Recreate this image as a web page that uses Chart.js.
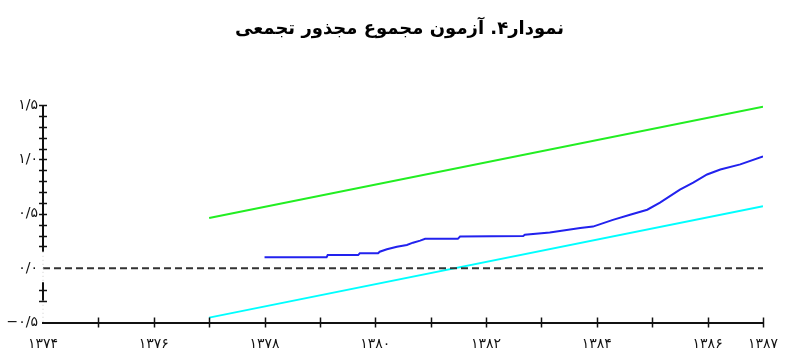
<!DOCTYPE html>
<html>
<head>
<meta charset="utf-8">
<script src="https://cdn.jsdelivr.net/npm/chart.js@4/dist/chart.umd.min.js"></script>
<style>
  html, body { margin: 0; padding: 0; background: #fff; }
</style>
</head>
<body>
<canvas id="cusumsq" width="799" height="356"></canvas>
<script>
// عنوان و برچسب‌ها
const chartTitle = 'نمودار۴. آزمون مجموع مجذور تجمعی';
const xLabelYears = [1374, 1376, 1378, 1380, 1382, 1384, 1386, 1387];
const yLabelValues = [-0.5, 0, 0.5, 1, 1.5];

// آماره مجموع مجذور تجمعی (خوانده شده از نمودار)
const cusumYears = [1378.0, 1379.12, 1379.14, 1379.69, 1379.72, 1380.05, 1380.08, 1380.21, 1380.39,
  1380.57, 1380.68, 1380.81, 1380.9, 1381.49, 1381.53, 1382.67, 1382.7, 1383.15, 1383.7, 1383.93,
  1384.29, 1384.6, 1384.91, 1385.14, 1385.5, 1385.74, 1385.99, 1386.23, 1386.59, 1387.0];
const cusumValues = [0.099, 0.099, 0.12, 0.12, 0.136, 0.136, 0.151, 0.173, 0.197,
  0.213, 0.234, 0.253, 0.269, 0.269, 0.29, 0.296, 0.308, 0.327, 0.37, 0.382,
  0.444, 0.491, 0.537, 0.602, 0.722, 0.787, 0.861, 0.907, 0.954, 1.028];

// کرانه‌های بالا و پایین ۵٪
const boundYears = [1377, 1387];
const upperBound = [0.46, 1.485];
const lowerBound = [-0.455, 0.568];

// خط صفر
const zeroYears = [1374, 1387];
const zeroLine = [0, 0];

const faDigits = '۰۱۲۳۴۵۶۷۸۹';
function toFa(str) {
    return String(str).replace(/[0-9]/g, d => faDigits[d]);
}
function toPoints(xs, ys) {
    return xs.map((x, i) => ({ x: x, y: ys[i] }));
}
function isMajor(v) {
    return yLabelValues.some(m => Math.abs(m - v) < 1e-6);
}

// تیک‌های متقاطع روی محورها
const axisTicks = {
    id: 'axisTicks',
    afterDraw(chart) {
        const ctx = chart.ctx;
        const xs = chart.scales.x;
        const ys = chart.scales.y;
        const area = chart.chartArea;
        const solid = [[0.15, 1.5], [-0.3, -0.13]];
        ctx.save();
        ctx.strokeStyle = '#111';
        ctx.lineWidth = 2;
        // محور عمودی (با بریدگی‌های نمودار اصلی)
        solid.forEach(r => {
            ctx.beginPath();
            ctx.moveTo(area.left, ys.getPixelForValue(r[1]));
            ctx.lineTo(area.left, ys.getPixelForValue(r[0]));
            ctx.stroke();
        });
        ctx.strokeStyle = '#ccc';
        ctx.lineWidth = 1;
        ctx.setLineDash([1, 3]);
        ctx.beginPath();
        ctx.moveTo(area.left, ys.getPixelForValue(0.15));
        ctx.lineTo(area.left, ys.getPixelForValue(-0.13));
        ctx.moveTo(area.left, ys.getPixelForValue(-0.3));
        ctx.lineTo(area.left, ys.getPixelForValue(-0.5));
        ctx.stroke();
        ctx.setLineDash([]);

        ctx.strokeStyle = '#111';
        ctx.lineWidth = 1.5;
        ys.ticks.forEach(t => {
            const inSolid = solid.some(r => t.value >= r[0] - 1e-6 && t.value <= r[1] + 1e-6);
            if (!inSolid) return;
            const py = Math.round(ys.getPixelForValue(t.value)) + 0.5;
            ctx.beginPath();
            ctx.moveTo(area.left - 4, py);
            ctx.lineTo(area.left + 4, py);
            ctx.stroke();
        });
        xs.ticks.forEach(t => {
            if (t.value === xs.min) return;
            const px = Math.round(xs.getPixelForValue(t.value)) + 0.5;
            ctx.beginPath();
            ctx.moveTo(px, area.bottom - 5);
            ctx.lineTo(px, area.bottom + 5);
            ctx.stroke();
        });
        ctx.restore();
    }
};

const ctx = document.getElementById('cusumsq').getContext('2d');
new Chart(ctx, {
    type: 'line',
    data: {
        datasets: [
            {
                label: 'zero',
                data: toPoints(zeroYears, zeroLine),
                borderColor: '#333',
                borderWidth: 2,
                borderDash: [7, 4]
            },
            {
                label: 'upper',
                data: toPoints(boundYears, upperBound),
                borderColor: '#22ee22',
                borderWidth: 2
            },
            {
                label: 'lower',
                data: toPoints(boundYears, lowerBound),
                borderColor: '#00ffff',
                borderWidth: 2
            },
            {
                label: 'CUSUMSQ',
                data: toPoints(cusumYears, cusumValues),
                borderColor: '#2222ee',
                borderWidth: 2
            }
        ]
    },
    options: {
        responsive: false,
        animation: false,
        devicePixelRatio: 1,
        elements: {
            point: { radius: 0 },
            line: { tension: 0 }
        },
        layout: { padding: 0 },
        scales: {
            x: {
                type: 'linear',
                min: 1374,
                max: 1387,
                grid: { display: false, drawTicks: false },
                border: { display: true, color: '#111', width: 2 },
                ticks: {
                    stepSize: 1,
                    autoSkip: false,
                    maxRotation: 0,
                    padding: 13,
                    color: '#111',
                    font: { family: 'DejaVu Sans', size: 14 },
                    callback: v => xLabelYears.includes(v) ? toFa(v) : ''
                },
                afterFit: s => { s.height = 33.5; }
            },
            y: {
                min: -0.5,
                max: 1.5,
                grid: { display: false, drawTicks: false },
                border: { display: false },
                ticks: {
                    stepSize: 0.1,
                    autoSkip: false,
                    padding: 5,
                    color: '#111',
                    font: { family: 'DejaVu Sans', size: 14 },
                    callback: v => isMajor(v) ? toFa(v.toFixed(1).replace('.', '/')).replace('-', '−') : ''
                },
                afterFit: s => { s.width = 43; }
            },
            // فضای خالی سمت راست
            yRight: {
                position: 'right',
                min: -0.5,
                max: 1.5,
                grid: { display: false, drawTicks: false },
                border: { display: false },
                ticks: { display: false },
                afterFit: s => { s.width = 36; }
            }
        },
        plugins: {
            legend: { display: false },
            tooltip: { enabled: false },
            title: {
                display: true,
                text: chartTitle,
                color: '#000',
                font: { family: 'DejaVu Sans', size: 18, weight: 'bold', lineHeight: 1.2 },
                padding: { top: 19, bottom: 64.4 }
            }
        }
    },
    plugins: [axisTicks]
});
</script>
</body>
</html>
